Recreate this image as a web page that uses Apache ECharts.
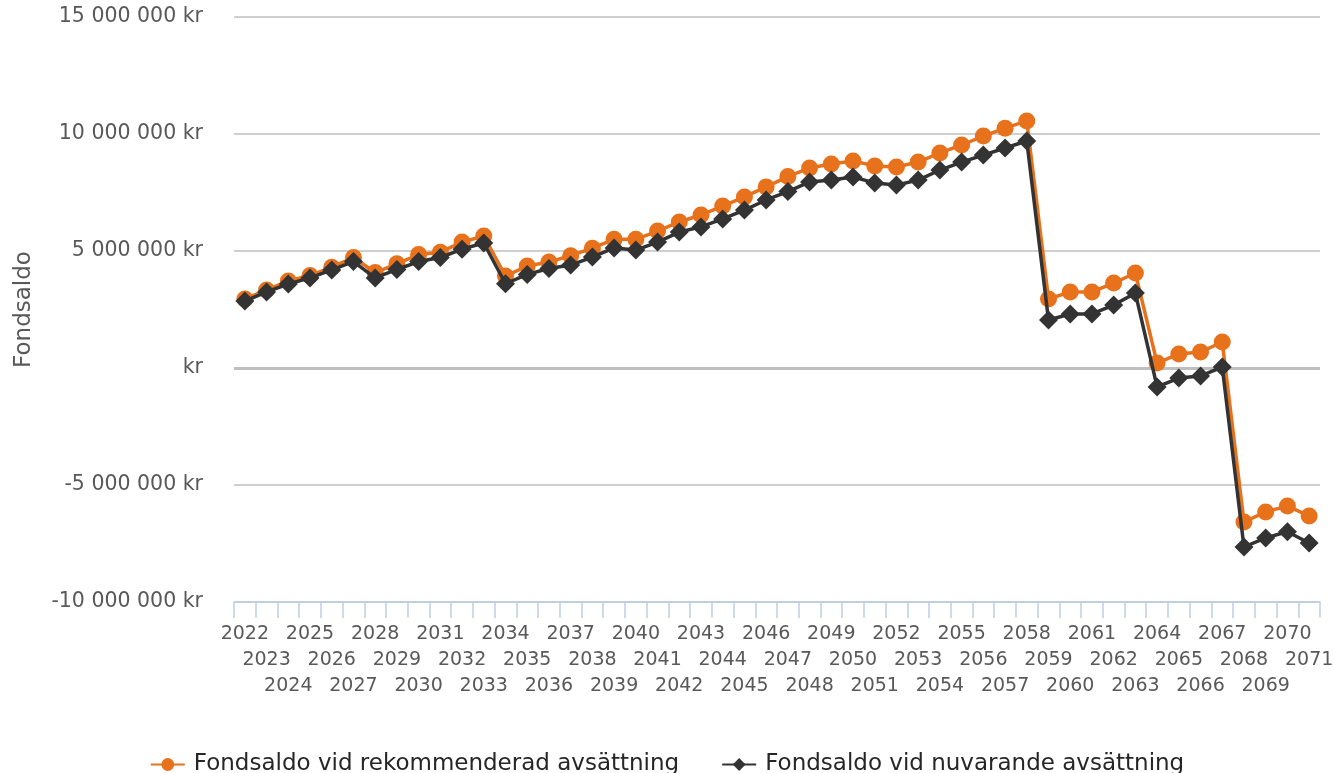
<!DOCTYPE html>
<html>
<head>
<meta charset="utf-8">
<script src="https://cdn.jsdelivr.net/npm/echarts@6/dist/echarts.min.js"></script>
<style>
  html, body { margin: 0; padding: 0; background: #ffffff; }
  #chart { width: 1334px; height: 773px; }
</style>
</head>
<body>
<div id="chart"></div>
<script>
const years = [
  '2022', '2023', '2024', '2025', '2026', '2027', '2028', '2029', '2030', '2031',
  '2032', '2033', '2034', '2035', '2036', '2037', '2038', '2039', '2040', '2041',
  '2042', '2043', '2044', '2045', '2046', '2047', '2048', '2049', '2050', '2051',
  '2052', '2053', '2054', '2055', '2056', '2057', '2058', '2059', '2060', '2061',
  '2062', '2063', '2064', '2065', '2066', '2067', '2068', '2069', '2070', '2071'
];

// Fondsaldo vid rekommenderad avsättning (kr)
const rekommenderad = [
  2950000, 3330000, 3720000, 3950000, 4310000, 4720000, 4080000, 4450000, 4850000, 4950000,
  5380000, 5640000, 3930000, 4360000, 4530000, 4800000, 5120000, 5500000, 5500000, 5850000,
  6240000, 6540000, 6920000, 7310000, 7740000, 8180000, 8550000, 8720000, 8850000, 8630000,
  8590000, 8800000, 9190000, 9530000, 9910000, 10250000, 10560000, 2950000, 3250000, 3250000,
  3630000, 4060000, 210000, 600000, 680000, 1110000, -6580000, -6150000, -5900000, -6320000
];

// Fondsaldo vid nuvarande avsättning (kr)
const nuvarande = [
  2860000, 3250000, 3590000, 3850000, 4190000, 4550000, 3850000, 4210000, 4550000, 4720000,
  5080000, 5340000, 3600000, 4000000, 4250000, 4400000, 4740000, 5130000, 5040000, 5380000,
  5810000, 6030000, 6370000, 6750000, 7180000, 7540000, 7950000, 8030000, 8160000, 7910000,
  7820000, 8030000, 8460000, 8800000, 9100000, 9400000, 9700000, 2050000, 2310000, 2310000,
  2690000, 3200000, -810000, -430000, -340000, 40000, -7650000, -7260000, -7000000, -7480000
];

const yTicks = [-10000000, -5000000, 0, 5000000, 10000000, 15000000];

const chart = echarts.init(document.getElementById('chart'), null, { renderer: 'canvas' });

function kr(v) {
  if (v === 0) return 'kr';
  var s = Math.abs(v).toString().replace(/\B(?=(\d{3})+(?!\d))/g, ' ');
  return (v < 0 ? '-' : '') + s + ' kr';
}

var font = 'DejaVu Sans';

var option = {
  backgroundColor: '#ffffff',
  color: ['#e8711c', '#333333'],
  textStyle: { fontFamily: font },
  grid: { left: 234, right: 14, top: 17, bottom: 171, outerBoundsMode: 'none', containLabel: false },
  legend: {
    top: 748,
    left: 'center',
    itemWidth: 34,
    itemHeight: 16,
    itemGap: 42,
    textStyle: { fontFamily: font, fontSize: 23, color: '#262626', padding: [0, 0, 0, 4] },
    data: ['Fondsaldo vid rekommenderad avsättning', 'Fondsaldo vid nuvarande avsättning']
  },
  xAxis: {
    type: 'category',
    data: years,
    boundaryGap: true,
    axisLine: { onZero: false, lineStyle: { color: '#bcd0e6', width: 1.5 } },
    axisTick: { show: true, length: 16, interval: 0, lineStyle: { color: '#bcd0e6', width: 1.5 } },
    axisLabel: {
      interval: 0,
      margin: 19,
      fontSize: 19,
      lineHeight: 26,
      color: '#595959',
      fontFamily: font,
      formatter: function (v, i) {
        return '\n'.repeat(i % 3) + v;
      }
    }
  },
  yAxis: {
    type: 'value',
    min: yTicks[0],
    max: yTicks[yTicks.length - 1],
    interval: 5000000,
    name: 'Fondsaldo',
    nameLocation: 'middle',
    nameGap: 198,
    nameTextStyle: { fontSize: 23, color: '#595959', fontFamily: font },
    axisLine: { show: false },
    axisTick: { show: false },
    axisLabel: {
      fontSize: 20.5,
      color: '#595959',
      margin: 31,
      padding: [6, 0, 0, 0],
      fontFamily: font,
      formatter: kr
    },
    splitLine: { lineStyle: { color: '#bfbfbf', width: 1.5 } }
  },
  series: [
    {
      name: 'Fondsaldo vid rekommenderad avsättning',
      type: 'line',
      data: rekommenderad,
      symbol: 'circle',
      symbolSize: 17,
      lineStyle: { width: 3.5, color: '#e8711c' },
      itemStyle: { color: '#e8711c' },
      z: 2,
      markLine: {
        silent: true,
        symbol: 'none',
        label: { show: false },
        lineStyle: { color: '#bfbfbf', width: 3, type: 'solid' },
        data: [{ yAxis: 0 }],
        z: 1
      }
    },
    {
      name: 'Fondsaldo vid nuvarande avsättning',
      type: 'line',
      data: nuvarande,
      symbol: 'diamond',
      symbolSize: 19,
      lineStyle: { width: 3.5, color: '#333333' },
      itemStyle: { color: '#333333' },
      z: 3
    }
  ]
};

chart.setOption(option);
</script>
</body>
</html>
